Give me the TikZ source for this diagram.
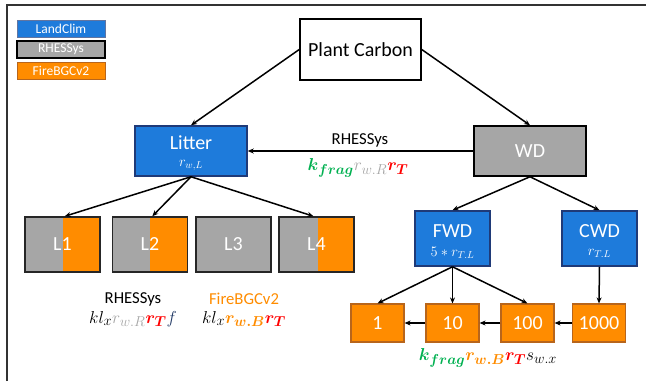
\documentclass[tikz,border=0pt]{standalone}
\usepackage{amsmath}
\usepackage{bm}
\usepackage{fontspec}
\setmainfont{Carlito}
\usetikzlibrary{arrows.meta,calc}
\definecolor{blueC}{HTML}{1E7BDB}
\definecolor{navyC}{HTML}{1F3A78}
\definecolor{grayC}{HTML}{A6A6A6}
\definecolor{orangeC}{HTML}{FF8C00}
\definecolor{orangeD}{HTML}{B8651B}
\definecolor{greenC}{HTML}{00B050}
\definecolor{redC}{HTML}{FF0000}
\definecolor{fblue}{HTML}{203864}
\begin{document}
\begin{tikzpicture}[x=1pt,y=-1pt,
  box/.style={rectangle, inner sep=0pt, text=white, font=\fontsize{20}{22}\selectfont},
  bluebox/.style={box, fill=blueC, draw=navyC, line width=1.5pt},
  graybox/.style={box, fill=grayC, draw=black, line width=1.5pt},
  orbox/.style={box, fill=orangeC, draw=orangeD, line width=1.2pt, minimum width=53pt, minimum height=38pt},
  lbox/.style={box, fill=grayC, draw=black!85, line width=1.5pt, minimum width=75pt, minimum height=55pt},
  halfor/.style={path picture={\fill[orangeC] ($(path picture bounding box.north west)!#1!(path picture bounding box.north east)$) rectangle (path picture bounding box.south east);}},
  legbox/.style={rectangle, inner sep=0pt, minimum width=88pt, minimum height=17pt, text=white, font=\fontsize{13.5}{15}\selectfont},
  wtext/.style={text=white, inner sep=0pt, font=\fontsize{20}{22}\selectfont},
  subtext/.style={text=white, inner sep=0pt, font=\fontsize{14}{16}\selectfont},
  lab/.style={inner sep=0pt, font=\fontsize{16.7}{18}\selectfont},
  formula/.style={inner sep=0pt, font=\fontsize{19}{21}\selectfont},
  arr/.style={-{Stealth[length=6pt,width=5pt]}, line width=1.5pt, black}
]
\useasboundingbox (0,0) rectangle (646,381);
% frame
\draw[line width=1.5pt, black!80] (7,381) -- (7,5) -- (646,5);
% legend
\node[legbox, fill=blueC, draw=navyC!70, line width=0.8pt] (legA) at (61,28.5) {LandClim};
\node[legbox, fill=grayC, draw=black, line width=1.2pt] (legB) at (61,49.5) {RHESSys};
\node[legbox, fill=orangeC, draw=orangeD, line width=0.8pt] (legC) at (61,71) {FireBGCv2};
% main boxes
\node[box, fill=white, draw=black, line width=1.5pt, text=black, minimum width=121pt, minimum height=61pt] (plant) at (360.5,49.5) {Plant Carbon};
\node[bluebox, minimum width=112pt, minimum height=50pt] (litter) at (191,151) {};
\node[wtext] (littert) at (191,143) {Litter};
\node[subtext] (litters) at (191,165) {$r_{w,L}$};
\node[graybox, minimum width=112pt, minimum height=50pt] (wd) at (530,151) {WD};
\node[bluebox, minimum width=75pt, minimum height=55pt] (fwd) at (452.5,238.5) {};
\node[wtext] (fwdt) at (452.5,231) {FWD};
\node[subtext] (fwds) at (452.5,253) {$5 * r_{T.L}$};
\node[bluebox, minimum width=75pt, minimum height=55pt] (cwd) at (599.5,238.5) {};
\node[wtext] (cwdt) at (599.5,231) {CWD};
\node[subtext] (cwds) at (599.5,253) {$r_{T.L}$};
% litter classes
\node[lbox, halfor=0.5] (l1) at (62.5,244.5) {L1};
\node[lbox, halfor=0.5] (l2) at (150,244.5) {L2};
\node[lbox] (l3) at (233.5,244.5) {L3};
\node[lbox, halfor=0.52] (l4) at (316.5,244.5) {L4};
% woody size classes
\node[orbox] (c1) at (377.5,323) {1};
\node[orbox] (c10) at (452.5,323) {10};
\node[orbox] (c100) at (527.5,323) {100};
\node[orbox] (c1000) at (599,323) {1000};
% connectors
\draw[arr] (plant.west) -- (litter.north);
\draw[arr] (plant.east) -- (wd.north);
\draw[arr] (wd.west) -- (litter.east);
\draw[arr] (litter.south) -- ($(l1.north west)!0.53!(l1.north east)$);
\draw[arr] (litter.south) -- ($(l2.north west)!0.53!(l2.north east)$);
\draw[arr] (litter.south) -- ($(l4.north west)!0.46!(l4.north east)$);
\draw[arr] (wd.south) -- (fwd.north);
\draw[arr] (wd.south) -- (cwd.north);
\draw[arr] (fwd.south) -- (c1.north);
\draw[arr] (fwd.south) -- (c10.north);
\draw[arr] (fwd.south) -- (c100.north);
\draw[arr] (cwd.south) -- (c1000.north);
\draw[arr] (c1000.west) -- (c100.east);
\draw[arr] (c100.west) -- (c10.east);
\draw[arr] (c10.west) -- (c1.east);
% labels
\node[lab] (rhlab) at (360,140) {RHESSys};
\node[formula] (rhform) at (358,168) {$\color{greenC}\bm{k_{frag}}\color{grayC}r_{w.R}\color{redC}\bm{r_T}$};
\node[lab] (rh2) at (133,299) {RHESSys};
\node[formula] (rhf2) at (133,319) {$kl_x{\color{grayC}r_{w.R}}{\color{redC}\bm{r_T}}{\color{fblue}f}$};
\node[lab, text=orangeC] (fb2) at (244,299) {FireBGCv2};
\node[formula] (fbf2) at (244,319) {$kl_x{\color{orangeC}\bm{r_{w.B}}}{\color{redC}\bm{r_T}}$};
\node[formula] (cform) at (488,358) {${\color{greenC}\bm{k_{frag}}}{\color{orangeC}\bm{r_{w.B}}}{\color{redC}\bm{r_T}}s_{w.x}$};
\end{tikzpicture}
\end{document}
